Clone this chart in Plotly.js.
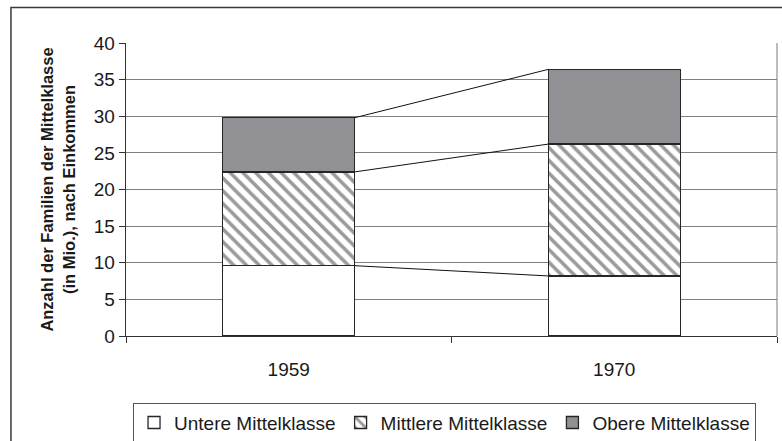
<!DOCTYPE html>
<html>
<head>
<meta charset="utf-8">
<script src="https://cdn.plot.ly/plotly-3.0.1.min.js"></script>
<style>html,body{margin:0;padding:0;background:#fff;}#chart{width:782px;height:441px;}</style>
</head>
<body>
<div id="chart"></div>
<script>
const years = ['1959', '1970'];
const seriesNames = ['Untere Mittelklasse', 'Mittlere Mittelklasse', 'Obere Mittelklasse'];
const untere = [9.6, 8.2];
const mittlere = [12.8, 18.0];
const obere = [7.4, 10.2];
const yTickVals = [0, 5, 10, 15, 20, 25, 30, 35, 40];
const yTitle = 'Anzahl der Familien der Mittelklasse<br>(in Mio.), nach Einkommen';

const series = [untere, mittlere, obere];
const barWidth = 0.405;
const fills = ['#ffffff', '#ffffff', '#919195'];
const patterns = [
  {shape: ''},
  {shape: '\\', fgcolor: '#9a9a9a', bgcolor: '#ffffff', size: 9, solidity: 0.4},
  {shape: ''}
];

const traces = series.map((vals, k) => ({
  type: 'bar',
  name: seriesNames[k],
  x: years,
  y: vals,
  width: years.map(() => barWidth),
  marker: {
    color: fills[k],
    line: {color: '#262626', width: 1.3},
    pattern: patterns[k]
  },
  hoverinfo: 'skip'
}));

// cumulative tops for the series lines
const shapes = [];
const cum = years.map(() => 0);
series.forEach(vals => {
  const tops = vals.map((v, i) => (cum[i] += v));
  for (let i = 0; i < years.length - 1; i++) {
    shapes.push({
      type: 'line', xref: 'x', yref: 'y',
      x0: i + barWidth / 2, y0: tops[i],
      x1: i + 1 - barWidth / 2, y1: tops[i + 1],
      line: {color: '#111', width: 1}
    });
  }
});
// plot-area right border
shapes.push({type: 'line', xref: 'paper', yref: 'paper', x0: 1, x1: 1, y0: 0, y1: 1,
  line: {color: '#9a9a9a', width: 1.3}, layer: 'below'});
// outer chart border
shapes.push({type: 'rect', xref: 'paper', yref: 'paper', x0: -0.1767, x1: 1.3, y0: -0.7, y1: 1.1213,
  line: {color: '#3a3a3a', width: 1.5}, layer: 'below'});

const layout = {
  width: 782, height: 441,
  margin: {l: 126, r: 5, t: 43, b: 105, autoexpand: false},
  paper_bgcolor: '#ffffff', plot_bgcolor: '#ffffff',
  font: {family: '"Liberation Sans", Arial, sans-serif', color: '#1a1a1a'},
  barmode: 'stack',
  showlegend: true,
  legend: {
    orientation: 'h', x: 0.0108, xanchor: 'left', y: -0.2275, yanchor: 'top',
    bordercolor: '#555', borderwidth: 1, bgcolor: '#ffffff',
    font: {size: 19, color: '#1a1a1a'}, traceorder: 'normal'
  },
  xaxis: {
    type: 'category', range: [-0.5, 1.5],
    tickson: 'boundaries', ticks: 'outside', ticklen: 6, tickcolor: '#333',
    showline: true, linecolor: '#333', linewidth: 1.3,
    showgrid: false, zeroline: false,
    tickfont: {size: 19}, ticklabelstandoff: 16
  },
  yaxis: {
    range: [0, 40], tickvals: yTickVals, ticktext: yTickVals.map(String),
    ticks: 'outside', ticklen: 6, tickcolor: '#333',
    showline: true, linecolor: '#333', linewidth: 1.3,
    showgrid: true, gridcolor: '#808080', gridwidth: 1.2, zeroline: false,
    tickfont: {size: 19},
    title: {text: yTitle, font: {size: 16.5, weight: 'bold', color: '#1a1a1a'}, standoff: 14}
  },
  shapes: shapes
};

Plotly.newPlot('chart', traces, layout, {displayModeBar: false, staticPlot: true});
</script>
</body>
</html>
